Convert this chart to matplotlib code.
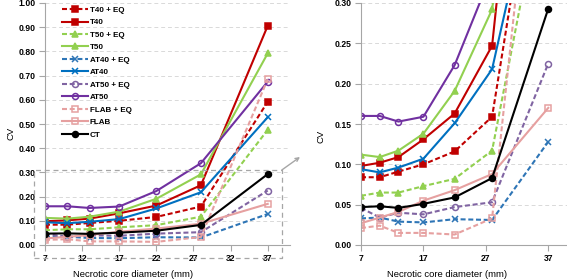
import numpy as np
import matplotlib.pyplot as plt

plt.rcParams["font.family"] = ["Liberation Sans", "DejaVu Sans"]
plt.rcParams["font.size"] = 6.2
plt.rcParams["font.weight"] = "bold"

diam = [7, 10, 13, 17, 22, 28, 37]

t40_eq = [0.084, 0.084, 0.091, 0.100, 0.116, 0.159, 0.592]
t40 = [0.098, 0.102, 0.109, 0.131, 0.163, 0.247, 0.906]
t50_eq = [0.061, 0.065, 0.065, 0.073, 0.082, 0.117, 0.476]
t50 = [0.112, 0.109, 0.117, 0.138, 0.191, 0.292, 0.792]
at40_eq = [0.033, 0.034, 0.029, 0.028, 0.032, 0.031, 0.128]
at40 = [0.094, 0.090, 0.096, 0.107, 0.151, 0.218, 0.528]
at50_eq = [0.046, 0.034, 0.040, 0.038, 0.047, 0.053, 0.225]
at50 = [0.160, 0.160, 0.153, 0.159, 0.223, 0.338, 0.675]
flab_eq = [0.021, 0.024, 0.015, 0.015, 0.013, 0.033, 0.685]
flab = [0.027, 0.034, 0.041, 0.055, 0.068, 0.088, 0.170]
ct = [0.047, 0.048, 0.046, 0.051, 0.059, 0.083, 0.293]

red = "#c00000"
green = "#92d050"
blue = "#0070c0"
blue2 = "#2e75b6"
purple = "#7030a0"
purple2 = "#8064a2"
pink = "#e6a0a0"

series = [
    ("T40 + EQ", t40_eq, red, "--", "s", red),
    ("T40", t40, red, "-", "s", red),
    ("T50 + EQ", t50_eq, green, "--", "^", green),
    ("T50", t50, green, "-", "^", green),
    ("AT40 + EQ", at40_eq, blue2, "--", "x", blue2),
    ("AT40", at40, blue, "-", "x", blue),
    ("AT50 + EQ", at50_eq, purple2, "--", "o", "none"),
    ("AT50", at50, purple, "-", "o", "none"),
    ("FLAB + EQ", flab_eq, pink, "--", "s", "none"),
    ("FLAB", flab, pink, "-", "s", "none"),
    ("CT", ct, "black", "-", "o", "black"),
]

fig = plt.figure(figsize=(5.67, 2.79), dpi=100)
ax1 = fig.add_axes([45 / 567, 34 / 279, 245 / 567, 242 / 279])
ax2 = fig.add_axes([361 / 567, 34 / 279, 206 / 567, 242 / 279])


def draw(ax):
    for name, vals, col, ls, mk, fc in series:
        line, = ax.plot(diam, vals, color=col, ls=ls, lw=1.5, marker=mk,
                        markersize=4.3, markerfacecolor=fc,
                        markeredgecolor=col, markeredgewidth=1.1, label=name)
        if ls == "--":
            line.set_dashes((2.4, 1.3))
    ax.set_xlim(7, 40)
    ax.grid(axis="y", color="#d9d9d9", ls=(0, (4, 3)), lw=0.7)
    ax.set_axisbelow(True)
    for s in ["top", "right"]:
        ax.spines[s].set_visible(False)
    for s in ["left", "bottom"]:
        ax.spines[s].set_color("#a6a6a6")
    ax.tick_params(length=4, color="#a6a6a6", pad=2.5)
    ax.set_xlabel("Necrotic core diameter (mm)", fontsize=6.8)
    ax.set_ylabel("CV", fontsize=6.8)


draw(ax1)
ax1.set_ylim(0, 1.0)
ax1.set_yticks(np.arange(0, 1.01, 0.1))
ax1.set_yticklabels([f"{v:.2f}" for v in np.arange(0, 1.01, 0.1)])
ax1.set_xticks([7, 12, 17, 22, 27, 32, 37])
ax1.xaxis.set_label_coords(0.36, -0.102)
ax1.yaxis.set_label_coords(-0.12, 0.46)
ax1.legend(loc="upper left", bbox_to_anchor=(0.055, 1.0), frameon=False,
           handlelength=3.3, labelspacing=0.6, handletextpad=0.2,
           borderaxespad=0, fontsize=5.8)

draw(ax2)
ax2.set_ylim(0, 0.30)
ax2.set_yticks(np.arange(0, 0.301, 0.05))
ax2.set_yticklabels([f"{v:.2f}" for v in np.arange(0, 0.301, 0.05)])
ax2.set_xticks([7, 17, 27, 37])
ax2.xaxis.set_label_coords(0.42, -0.102)
ax2.yaxis.set_label_coords(-0.17, 0.45)

# zoom box and arrow
gray = "#a6a6a6"
bx0, bx1, by0, by1 = 5.5, 38.9, -0.054, 0.31
ax1.plot([bx0, bx1, bx1, bx0, bx0], [by0, by0, by1, by1, by0],
         color=gray, ls=(0, (4, 3)), lw=0.9, clip_on=False)
ax1.annotate("", xy=(300 / 567, 1 - 157 / 279), xycoords="figure fraction",
             xytext=(bx1, by1), textcoords="data",
             arrowprops=dict(arrowstyle="->", color=gray, lw=1.0,
                             shrinkA=0, shrinkB=0))

fig.savefig("out.png", dpi=100)
